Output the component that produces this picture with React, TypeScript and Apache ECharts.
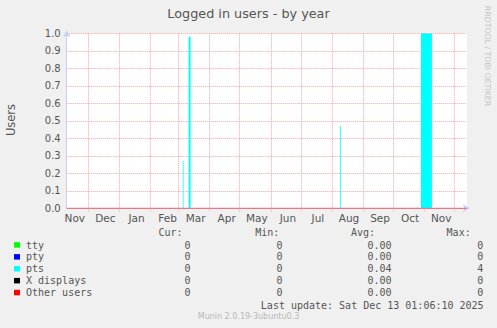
import React, { useEffect, useRef } from "react";
import * as echarts from "echarts";

// ---- data ----
const rangeStart = "2024-11-09T09:36:00Z";
const rangeEnd = "2025-12-13T09:36:00Z";

const monthStarts = [
  "2024-12-01T00:00:00Z", "2025-01-01T00:00:00Z", "2025-02-01T00:00:00Z", "2025-03-01T00:00:00Z",
  "2025-04-01T00:00:00Z", "2025-05-01T00:00:00Z", "2025-06-01T00:00:00Z", "2025-07-01T00:00:00Z",
  "2025-08-01T00:00:00Z", "2025-09-01T00:00:00Z", "2025-10-01T00:00:00Z", "2025-11-01T00:00:00Z",
  "2025-12-01T00:00:00Z",
];
const monthLabelDates = [
  "2024-11-17T12:00:00Z", "2024-12-18T00:00:00Z", "2025-01-18T00:00:00Z", "2025-02-18T00:00:00Z",
  "2025-03-18T00:00:00Z", "2025-04-18T00:00:00Z", "2025-05-18T00:00:00Z", "2025-06-18T00:00:00Z",
  "2025-07-18T00:00:00Z", "2025-08-18T00:00:00Z", "2025-09-18T00:00:00Z", "2025-10-18T00:00:00Z",
  "2025-11-18T00:00:00Z",
];
const monthLabels = ["Nov", "Dec", "Jan", "Feb", "Mar", "Apr", "May", "Jun", "Jul", "Aug", "Sep", "Oct", "Nov"];

const yMin = 0;
const yMax = 1;
const yInterval = 0.1;

// pts activity spans (start, end, value)
const ptsStart = ["2025-03-05T04:00:00Z", "2025-03-11T00:00:00Z", "2025-08-08T22:00:00Z", "2025-10-25T00:00:00Z", "2025-10-28T17:00:00Z"];
const ptsEnd = ["2025-03-05T22:00:00Z", "2025-03-13T00:00:00Z", "2025-08-09T18:00:00Z", "2025-10-25T12:00:00Z", "2025-11-08T17:00:00Z"];
const ptsValue = [0.27, 0.98, 0.47, 0.02, 1.0];

const otherTimes = [rangeStart, rangeEnd];
const otherValues = [0, 0];

const legendNames = ["tty", "pty", "pts", "X displays", "Other users"];
const legendColors = ["#00ff00", "#0000ff", "#00ffff", "#000000", "#ff0000"];
const curValues = ["0", "0", "0", "0", "0"];
const minValues = ["0", "0", "0", "0", "0"];
const avgValues = ["0.00", "0.00", "0.04", "0.00", "0.00"];
const maxValues = ["0", "0", "4", "0", "0"];

const titleText = "Logged in users - by year";
const yName = "Users";
const lastUpdate = "Last update: Sat Dec 13 01:06:10 2025";
const footer = "Munin 2.0.19-3ubuntu0.3";
const sideText = "RRDTOOL / TOBI OETIKER";

const T = (s: string) => Date.parse(s);

export default function App() {
  const ref = useRef<HTMLDivElement>(null);

  useEffect(() => {
    if (!ref.current) return;
    const chart = echarts.init(ref.current, undefined, { renderer: "svg" });

    const ptsData: [number, number][] = [[T(rangeStart), 0]];
    ptsStart.forEach((s, i) => {
      ptsData.push([T(s), 0], [T(s), ptsValue[i]], [T(ptsEnd[i]), ptsValue[i]], [T(ptsEnd[i]), 0]);
    });
    ptsData.push([T(rangeEnd), 0]);

    const otherData = otherTimes.map((t, i) => [T(t), otherValues[i]]);

    const labelTimes = monthLabelDates.map(T);
    const grid = "#f3a4a4";
    const txt = "#555555";
    const mono = "DejaVu Sans Mono";

    const rowY = [245, 256.9, 268.8, 280.7, 292.6];
    const graphic: any[] = [
      { type: "text", x: 248.5, y: 13.5, style: { text: titleText, fill: txt, fontSize: 12.8, fontFamily: "DejaVu Sans", align: "center", verticalAlign: "middle" } },
      { type: "text", x: 10.5, y: 120, rotation: Math.PI / 2, style: { text: yName, fill: txt, fontSize: 11.5, fontFamily: "DejaVu Sans", align: "center", verticalAlign: "middle" } },
      { type: "text", x: 487, y: 56, rotation: -Math.PI / 2, style: { text: sideText, fill: "#c4c4c4", fontSize: 7.8, fontFamily: "DejaVu Sans", align: "center", verticalAlign: "middle" } },
      { type: "text", x: 248.5, y: 316.7, style: { text: footer, fill: "#b8b8b8", fontSize: 8, fontFamily: "DejaVu Sans", align: "center", verticalAlign: "middle" } },
      { type: "text", x: 483.6, y: 305, style: { text: lastUpdate, fill: txt, fontSize: 10, fontFamily: mono, align: "right", verticalAlign: "middle" } },
      { type: "text", x: 158.4, y: 232.3, style: { text: "Cur:", fill: txt, fontSize: 10, fontFamily: mono, align: "left", verticalAlign: "middle" } },
      { type: "text", x: 255.3, y: 232.3, style: { text: "Min:", fill: txt, fontSize: 10, fontFamily: mono, align: "left", verticalAlign: "middle" } },
      { type: "text", x: 351, y: 232.3, style: { text: "Avg:", fill: txt, fontSize: 10, fontFamily: mono, align: "left", verticalAlign: "middle" } },
      { type: "text", x: 446.6, y: 232.3, style: { text: "Max:", fill: txt, fontSize: 10, fontFamily: mono, align: "left", verticalAlign: "middle" } },
    ];
    legendNames.forEach((n, i) => {
      const y = rowY[i];
      graphic.push(
        { type: "rect", shape: { x: 14, y: y - 2.8, width: 6, height: 5.5 }, style: { fill: legendColors[i] } },
        { type: "text", x: 26, y, style: { text: n, fill: txt, fontSize: 10, fontFamily: mono, align: "left", verticalAlign: "middle" } },
        { type: "text", x: 190.6, y, style: { text: curValues[i], fill: txt, fontSize: 10, fontFamily: mono, align: "right", verticalAlign: "middle" } },
        { type: "text", x: 282.6, y, style: { text: minValues[i], fill: txt, fontSize: 10, fontFamily: mono, align: "right", verticalAlign: "middle" } },
        { type: "text", x: 391.6, y, style: { text: avgValues[i], fill: txt, fontSize: 10, fontFamily: mono, align: "right", verticalAlign: "middle" } },
        { type: "text", x: 483.3, y, style: { text: maxValues[i], fill: txt, fontSize: 10, fontFamily: mono, align: "right", verticalAlign: "middle" } }
      );
    });

    chart.setOption({
      animation: false,
      backgroundColor: "#f0f0f0",
      grid: { left: 66.7, right: 30.3, top: 33.3, bottom: 119.7, show: true, backgroundColor: "#ffffff", borderWidth: 0 },
      xAxis: {
        type: "value",
        min: T(rangeStart),
        max: T(rangeEnd),
        axisLine: { show: true, lineStyle: { color: "#c9d0f4", width: 1 }, symbol: ["none", "arrow"], symbolSize: [6, 7], symbolOffset: [0, 3] },
        axisTick: { show: true, length: 3, customValues: monthStarts.map(T), lineStyle: { color: grid, type: [1, 1] } },
        splitLine: { show: true, lineStyle: { color: grid, type: [1, 1], width: 1 } },
        axisLabel: {
          customValues: labelTimes,
          color: txt,
          fontSize: 10.5,
          fontFamily: "DejaVu Sans",
          margin: 4,
          formatter: (v: number) => {
            const idx = labelTimes.findIndex((t) => Math.abs(t - v) < 60000);
            return idx >= 0 ? monthLabels[idx] : "";
          },
        },
      },
      yAxis: {
        type: "value",
        min: yMin,
        max: yMax,
        interval: yInterval,
        axisLine: { show: true, lineStyle: { color: "#c9d0f4", width: 1 }, symbol: ["none", "arrow"], symbolSize: [6, 7], symbolOffset: [0, 3] },
        axisTick: { show: false },
        splitLine: { show: true, lineStyle: { color: grid, type: [1, 1], width: 1 } },
        axisLabel: { color: txt, fontSize: 10, fontFamily: "DejaVu Sans", margin: 6, formatter: (v: number) => v.toFixed(1) },
      },
      series: [
        {
          name: "pts",
          type: "line",
          data: ptsData,
          symbol: "none",
          lineStyle: { width: 0 },
          areaStyle: { color: "#00ffff", opacity: 1 },
          z: 2,
        },
        {
          name: "Other users",
          type: "line",
          data: otherData,
          symbol: "none",
          lineStyle: { width: 1.2, color: "#e67888" },
          z: 3,
        },
      ],
      graphic,
    });

    return () => chart.dispose();
  }, []);

  return <div ref={ref} style={{ position: "fixed", left: 0, top: 0, width: 497, height: 328 }} />;
}
